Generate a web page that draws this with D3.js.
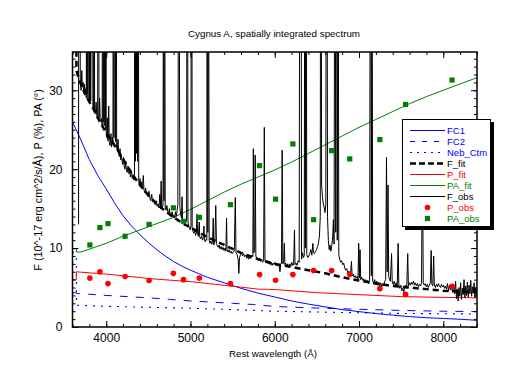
<!DOCTYPE html>
<html>
<head>
<meta charset="utf-8">
<script src="https://cdn.jsdelivr.net/npm/d3@7"></script>
<style>
  body { margin: 0; background: #fff; }
  text { font-family: "Liberation Sans", Arial, sans-serif; }
</style>
</head>
<body>
<div id="chart"></div>
<script>
// ---- data (wavelength in Å, value) ----
const FC1 = [[3600, 26.0], [3700, 23.7], [3800, 21.2], [3900, 19.2], [4000, 17.5], [4100, 15.7],
  [4200, 14.1], [4300, 12.8], [4400, 11.7], [4500, 10.7], [4600, 9.8], [4700, 9.0], [4800, 8.3],
  [4900, 7.7], [5000, 7.2], [5200, 6.3], [5400, 5.6], [5600, 4.9], [5800, 4.3], [6000, 3.8],
  [6200, 3.3], [6400, 2.9], [6600, 2.55], [6800, 2.2], [7000, 1.95], [7200, 1.7], [7400, 1.5],
  [7600, 1.32], [7800, 1.18], [8000, 1.08], [8200, 0.98], [8400, 0.85]];

const FC2 = [[3600, 4.35], [3645, 4.35], [3647, 4.25], [3800, 4.15], [4000, 4.0], [4250, 3.85],
  [4500, 3.7], [4750, 3.5], [5000, 3.3], [5250, 3.15], [5500, 3.0], [5750, 2.85], [6000, 2.6],
  [6500, 2.4], [7000, 2.25], [7500, 2.1], [8000, 2.0], [8400, 1.95]];

const NEB_CTM = [[3600, 9.6], [3645, 9.0], [3647, 2.75], [3800, 2.7], [4000, 2.62], [4500, 2.5],
  [5000, 2.38], [5500, 2.2], [6000, 2.0], [6500, 1.9], [7000, 1.8], [7500, 1.72], [8000, 1.68],
  [8400, 1.65]];

const F_FIT = [[3600, 40.0], [3645, 38.3], [3647, 32.5], [3680, 31.3], [3730, 30.0], [3790, 28.7],
  [3850, 27.6], [3900, 26.5], [4000, 24.6], [4100, 23.0], [4200, 21.3], [4300, 19.5], [4400, 18.0],
  [4500, 16.7], [4600, 15.6], [4700, 14.7], [4800, 13.9], [4900, 13.2], [5000, 12.6], [5100, 12.0],
  [5200, 11.4], [5300, 10.9], [5400, 10.4], [5500, 9.9], [5600, 9.4], [5700, 9.0], [5800, 8.6],
  [5900, 8.3], [6000, 8.0], [6200, 7.6], [6400, 7.2], [6600, 6.8], [6800, 6.3], [7000, 5.9],
  [7200, 5.5], [7400, 5.2], [7600, 5.0], [7800, 4.8], [8000, 4.6], [8200, 4.5], [8400, 4.4]];

const P_FIT = [[3600, 6.0], [3645, 6.0], [3647, 7.0], [3700, 6.95], [4000, 6.7], [4200, 6.5],
  [4500, 6.15], [4800, 5.9], [5000, 5.75], [5300, 5.4], [5600, 5.05], [5800, 4.8], [6000, 4.75],
  [6500, 4.35], [7000, 4.1], [7500, 3.85], [8000, 3.75], [8400, 3.7]];

const PA_FIT = [[3600, 9.95], [3645, 9.95], [3647, 9.5], [3700, 9.5], [4000, 10.6], [4200, 11.5],
  [4500, 12.7], [4800, 13.9], [5000, 14.9], [5200, 16.0], [5400, 17.1], [5600, 18.1], [5800, 19.0],
  [6000, 19.9], [6200, 20.9], [6400, 22.0], [6600, 23.1], [6800, 24.2], [7000, 25.3], [7200, 26.3],
  [7400, 27.3], [7600, 28.3], [7800, 29.2], [8000, 30.0], [8200, 30.8], [8400, 31.6]];

const F_OBS = [[3672, 13.0], [3674, 80], [3688, 80], [3692, 31.2], [3702, 30.0], [3710, 32.5],
  [3716, 30.4], [3726, 31.0], [3734, 29.6], [3742, 30.8], [3750, 29.5], [3758, 30.2], [3764, 29.0],
  [3768, 80], [3772, 29.5], [3778, 70], [3784, 28.8], [3796, 75], [3802, 28.4], [3810, 80],
  [3816, 28.6], [3830, 60], [3838, 80], [3842, 27.9], [3850, 27.6], [3858, 70], [3862, 27.3],
  [3872, 27.0], [3880, 28.5], [3888, 26.8], [3898, 26.7], [3910, 70], [3914, 26.5], [3922, 29.0],
  [3928, 26.2], [3938, 26.0], [3946, 26.4], [3952, 25.6], [3958, 80], [3964, 26.0], [3970, 90],
  [3976, 25.5], [3986, 60], [3992, 25.0], [3996, 70], [4000, 24.6], [4008, 24.0], [4014, 26.5],
  [4020, 23.6], [4030, 28.0], [4036, 23.4], [4046, 23.0], [4056, 24.5], [4064, 22.8], [4074, 24.0],
  [4080, 23.2], [4086, 80], [4092, 24.0], [4102, 90], [4110, 23.5], [4118, 70], [4124, 22.8],
  [4132, 22.3], [4140, 23.8], [4148, 22.0], [4156, 21.6], [4164, 22.6], [4172, 21.2], [4180, 21.8],
  [4190, 20.9], [4198, 20.6], [4206, 21.5], [4214, 20.3], [4222, 20.0], [4232, 21.0], [4240, 19.8],
  [4250, 19.6], [4260, 20.4], [4270, 19.4], [4280, 19.6], [4290, 19.0], [4300, 19.8], [4310, 18.8],
  [4320, 19.3], [4330, 18.6], [4336, 19.5], [4340, 100], [4346, 21], [4352, 60], [4358, 22],
  [4364, 80], [4372, 21], [4380, 60], [4386, 18.3], [4394, 18.0], [4402, 18.8], [4410, 17.8],
  [4420, 18.4], [4430, 17.5], [4440, 19.2], [4448, 17.4], [4458, 17.0], [4468, 17.6], [4478, 16.8],
  [4488, 17.0], [4498, 16.5], [4508, 17.2], [4518, 16.3], [4528, 16.0], [4540, 16.8], [4550, 15.9],
  [4560, 16.2], [4572, 15.7], [4582, 15.5], [4594, 16.0], [4604, 15.3], [4614, 15.6], [4626, 15.1],
  [4636, 16.8], [4644, 15.0], [4652, 18.5], [4658, 15.2], [4666, 15.0], [4674, 15.6], [4680, 60],
  [4686, 16], [4692, 70], [4700, 15.2], [4710, 14.8], [4720, 15.4], [4730, 14.6], [4740, 14.4],
  [4750, 15.0], [4760, 14.2], [4772, 14.0], [4782, 14.6], [4792, 13.9], [4802, 14.2], [4812, 13.8],
  [4822, 14.6], [4832, 14.0], [4842, 14.8], [4850, 15.5], [4856, 40], [4862, 120], [4868, 40],
  [4874, 15.2], [4884, 14.3], [4894, 13.8], [4900, 16.5], [4906, 13.5], [4916, 13.2], [4926, 13.4],
  [4936, 12.9], [4946, 13.3], [4954, 13.6], [4962, 100], [4970, 13.4], [4978, 12.8], [4988, 12.6],
  [4998, 12.3], [5006, 12.8], [5012, 120], [5020, 12.6], [5030, 12.1], [5040, 11.9], [5050, 12.2],
  [5060, 11.6], [5070, 12.0], [5078, 14.3], [5084, 11.8], [5094, 11.5], [5104, 13.3], [5110, 11.4],
  [5120, 11.2], [5132, 11.5], [5142, 11.0], [5152, 11.3], [5160, 12.8], [5166, 11.0], [5176, 10.8],
  [5186, 11.1], [5194, 11.0], [5198, 80], [5206, 12], [5214, 60], [5222, 11.0], [5232, 10.6],
  [5242, 10.9], [5252, 10.5], [5262, 10.7], [5270, 13.8], [5276, 10.4], [5290, 10.8], [5300, 15.4],
  [5308, 10.6], [5318, 10.3], [5330, 10.1], [5340, 10.4], [5350, 9.9], [5362, 10.2], [5374, 9.8],
  [5386, 10.1], [5398, 9.7], [5410, 10.0], [5420, 9.6], [5428, 13.8], [5434, 9.8], [5446, 9.5],
  [5458, 9.8], [5470, 9.4], [5482, 9.6], [5494, 9.3], [5506, 9.5], [5520, 9.6], [5532, 16.4],
  [5540, 9.4], [5552, 9.2], [5566, 8.6], [5574, 6.8], [5582, 8.8], [5594, 9.2], [5606, 9.4],
  [5618, 9.0], [5630, 9.3], [5644, 8.9], [5656, 9.1], [5668, 8.7], [5680, 9.0], [5692, 8.6],
  [5704, 8.9], [5714, 8.7], [5726, 9.1], [5740, 8.9], [5746, 22.6], [5752, 9.4], [5762, 9.6],
  [5768, 21.8], [5776, 9.0], [5786, 8.6], [5796, 8.8], [5808, 8.4], [5820, 8.7], [5832, 8.3],
  [5844, 8.6], [5856, 8.2], [5868, 8.5], [5876, 25.3], [5884, 8.4], [5896, 8.1], [5908, 8.4],
  [5920, 8.0], [5932, 8.3], [5944, 7.9], [5956, 8.2], [5968, 7.8], [5980, 8.1], [5992, 7.9],
  [6004, 8.2], [6016, 7.8], [6028, 8.0], [6040, 7.7], [6052, 7.9], [6062, 7.0], [6070, 7.9],
  [6080, 8.1], [6088, 22.4], [6096, 8.0], [6106, 8.3], [6114, 10.6], [6120, 7.9], [6130, 8.1],
  [6142, 7.7], [6154, 8.0], [6166, 7.6], [6178, 8.0], [6190, 7.7], [6202, 8.2], [6214, 7.8],
  [6224, 8.0], [6234, 12.3], [6240, 7.9], [6252, 8.1], [6264, 7.8], [6278, 8.4], [6290, 8.2],
  [6300, 80], [6310, 90], [6318, 8.6], [6330, 9.4], [6340, 8.8], [6350, 9.0], [6358, 70],
  [6364, 10], [6372, 70], [6380, 9.2], [6392, 8.8], [6404, 9.0], [6416, 9.3], [6428, 9.8],
  [6440, 9.1], [6452, 10.6], [6460, 9.4], [6472, 9.3], [6484, 9.6], [6496, 9.8], [6508, 10.2],
  [6518, 10.6], [6530, 11.5], [6540, 14], [6548, 100], [6556, 18], [6566, 16.5], [6576, 15.6],
  [6586, 15.2], [6596, 14.5], [6606, 15.5], [6616, 100], [6626, 14], [6636, 11], [6646, 9.8],
  [6656, 10.4], [6666, 9.6], [6676, 10.2], [6688, 11.5], [6696, 13.6], [6704, 10.5], [6716, 80],
  [6724, 12], [6732, 90], [6742, 11], [6752, 60], [6760, 9.2], [6770, 8.6], [6782, 8.2],
  [6794, 8.4], [6806, 7.9], [6818, 8.1], [6830, 7.5], [6842, 7.2], [6854, 7.4], [6866, 6.9],
  [6878, 7.1], [6890, 6.6], [6900, 6.8], [6910, 8.3], [6918, 6.5], [6930, 6.7], [6942, 6.3],
  [6954, 6.5], [6966, 6.2], [6978, 6.4], [6988, 6.1], [6996, 10.6], [7004, 6.2], [7012, 9.8],
  [7020, 6.0], [7032, 6.3], [7044, 5.9], [7056, 6.1], [7068, 5.7], [7080, 6.0], [7092, 5.6],
  [7104, 5.9], [7116, 5.5], [7126, 5.9], [7136, 80], [7146, 6.5], [7154, 60], [7162, 5.8],
  [7174, 5.6], [7186, 6.0], [7198, 5.4], [7210, 5.8], [7222, 5.3], [7234, 5.7], [7246, 5.2],
  [7258, 5.6], [7270, 5.1], [7282, 5.5], [7294, 5.3], [7306, 5.8], [7316, 6.0], [7326, 21.5],
  [7334, 7.0], [7344, 18.0], [7352, 6.4], [7362, 6.0], [7372, 5.8], [7386, 9.3], [7394, 5.7],
  [7406, 5.4], [7418, 5.8], [7430, 5.3], [7442, 5.6], [7454, 5.2], [7464, 10.6], [7472, 5.4],
  [7484, 4.9], [7496, 5.3], [7508, 4.6], [7520, 4.9], [7530, 4.4], [7542, 5.0], [7554, 5.3],
  [7566, 4.9], [7578, 9.3], [7586, 5.2], [7598, 5.6], [7610, 5.3], [7622, 5.7], [7634, 5.4],
  [7646, 5.8], [7658, 5.3], [7670, 5.6], [7682, 5.2], [7694, 5.5], [7706, 5.1], [7718, 5.4],
  [7730, 5.2], [7742, 5.6], [7752, 24], [7762, 5.6], [7774, 5.3], [7786, 5.5], [7798, 5.1],
  [7810, 5.4], [7822, 5.0], [7834, 5.3], [7846, 5.6], [7856, 9.7], [7864, 5.4], [7876, 5.2],
  [7886, 9.0], [7894, 5.3], [7906, 5.0], [7918, 5.4], [7930, 5.1], [7942, 5.5], [7954, 5.2],
  [7966, 5.0], [7978, 5.4], [7990, 5.1], [8002, 5.3], [8014, 4.9], [8026, 5.2], [8038, 4.8],
  [8050, 5.5], [8062, 4.6], [8074, 5.3], [8086, 4.7], [8098, 5.1], [8110, 4.4], [8122, 5.4],
  [8134, 4.2], [8146, 5.8], [8156, 3.6], [8166, 4.8], [8176, 3.3], [8186, 5.0], [8196, 3.9],
  [8206, 5.6], [8216, 3.5], [8226, 4.9], [8236, 4.1], [8246, 6.0], [8256, 3.7], [8266, 5.2],
  [8276, 4.0], [8286, 5.7], [8296, 3.8], [8306, 5.3], [8316, 4.2], [8326, 5.9], [8336, 3.9],
  [8346, 5.1], [8356, 4.3], [8366, 5.6], [8376, 3.7], [8386, 5.0], [8396, 4.1]];

const obsWave = [3806, 3925, 4021, 4224, 4509, 4797, 4917, 5105, 5474, 5820, 6010, 6215, 6461,
  6675, 6890, 7247, 7552, 8104];
const P_OBS = [6.2, 7.0, 5.5, 6.4, 5.9, 6.8, 6.0, 6.2, 5.5, 6.64, 5.92, 6.64, 7.15, 7.15, 6.68,
  4.86, 4.14, 5.16];
const PA_OBS = [10.4, 12.6, 13.1, 11.5, 13.0, 15.1, 13.4, 13.9, 15.5, 20.45, 16.2, 23.2, 13.6,
  22.35, 21.3, 23.75, 28.2, 31.3];

const xTicks = [4000, 5000, 6000, 7000, 8000];
const yTicks = [0, 10, 20, 30];
const legendLabels = ["FC1", "FC2", "Neb_Ctm", "F_fit", "P_fit", "PA_fit", "F_obs", "P_obs", "PA_obs"];

// ---- drawing ----
const width = 513, height = 374;
const pLeft = 72.5, pRight = 477, pTop = 52, pBottom = 327;
const blue = "#0000ff", red = "#ff0000", green = "#008000";

const x = d3.scaleLinear().domain([3600, 8400]).range([pLeft, pRight]);
const y = d3.scaleLinear().domain([0, 34.85]).range([pBottom, pTop]);

const svg = d3.select("#chart").append("svg")
    .attr("width", width)
    .attr("height", height);

svg.append("defs").append("clipPath").attr("id", "plot")
  .append("rect")
    .attr("x", pLeft).attr("y", pTop)
    .attr("width", pRight - pLeft).attr("height", pBottom - pTop);

const line = d3.line().x(d => x(d[0])).y(d => y(d[1]));
const plot = svg.append("g").attr("clip-path", "url(#plot)");

function curve(data, color, w, dash) {
  plot.append("path")
      .datum(data)
      .attr("fill", "none")
      .attr("stroke", color)
      .attr("stroke-width", w)
      .attr("stroke-dasharray", dash)
      .attr("d", line);
}

curve(FC1, blue, 1, null);
curve(FC2, blue, 1, "8,8");
curve(NEB_CTM, blue, 1.1, "2,6");
curve(P_FIT, red, 1, null);
curve(PA_FIT, green, 1, null);
curve(F_FIT, "#000", 2.5, "6,4");
curve(F_OBS, "#000", 1, null);

plot.selectAll("circle.pobs")
  .data(obsWave)
  .enter().append("circle")
    .attr("cx", d => x(d))
    .attr("cy", (d, i) => y(P_OBS[i]))
    .attr("r", 2.8)
    .attr("fill", red);

plot.selectAll("rect.paobs")
  .data(obsWave)
  .enter().append("rect")
    .attr("x", d => x(d) - 2.6)
    .attr("y", (d, i) => y(PA_OBS[i]) - 2.6)
    .attr("width", 5.2).attr("height", 5.2)
    .attr("fill", green);

// axes: ticks point inward on all four sides
function styleAxis(g) {
  g.select(".domain").remove();
  g.selectAll("line").attr("stroke", "#000");
  g.selectAll("text").attr("font-size", 12).attr("fill", "#000")
    .attr("font-family", "'Liberation Sans', Arial, sans-serif");
}
const minorX = d3.range(3600, 8401, 200);
const minorY = d3.range(0, 35, 1);

svg.append("g").attr("transform", `translate(0,${pBottom})`)
  .call(d3.axisBottom(x).tickValues(minorX).tickSize(-3).tickFormat(""))
  .call(styleAxis);
svg.append("g").attr("transform", `translate(0,${pBottom})`)
  .call(d3.axisBottom(x).tickValues(xTicks).tickSizeInner(-6).tickSizeOuter(0).tickPadding(6)
    .tickFormat(d3.format("d")))
  .call(styleAxis);
svg.append("g").attr("transform", `translate(0,${pTop})`)
  .call(d3.axisTop(x).tickValues(minorX).tickSize(-3).tickFormat(""))
  .call(styleAxis);
svg.append("g").attr("transform", `translate(0,${pTop})`)
  .call(d3.axisTop(x).tickValues(xTicks).tickSize(-6).tickFormat(""))
  .call(styleAxis);

svg.append("g").attr("transform", `translate(${pLeft},0)`)
  .call(d3.axisLeft(y).tickValues(minorY).tickSize(-3).tickFormat(""))
  .call(styleAxis);
svg.append("g").attr("transform", `translate(${pLeft},0)`)
  .call(d3.axisLeft(y).tickValues(yTicks).tickSizeInner(-6).tickSizeOuter(0).tickPadding(10)
    .tickFormat(d3.format("d")))
  .call(styleAxis);
svg.append("g").attr("transform", `translate(${pRight},0)`)
  .call(d3.axisRight(y).tickValues(minorY).tickSize(-3).tickFormat(""))
  .call(styleAxis);
svg.append("g").attr("transform", `translate(${pRight},0)`)
  .call(d3.axisRight(y).tickValues(yTicks).tickSize(-6).tickFormat(""))
  .call(styleAxis);

svg.append("rect")
    .attr("x", pLeft).attr("y", pTop)
    .attr("width", pRight - pLeft).attr("height", pBottom - pTop)
    .attr("fill", "none")
    .attr("stroke", "#000")
    .attr("stroke-width", 1.5);

// titles
svg.append("text")
    .attr("x", 274).attr("y", 37)
    .attr("text-anchor", "middle")
    .attr("font-size", 9.8)
    .text("Cygnus A, spatially integrated spectrum");

svg.append("text")
    .attr("x", 273).attr("y", 357)
    .attr("text-anchor", "middle")
    .attr("font-size", 9.8)
    .text("Rest wavelength (Å)");

svg.append("text")
    .attr("transform", "translate(42,180)rotate(-90)")
    .attr("text-anchor", "middle")
    .attr("font-size", 10.8)
    .text("F (10^-17 erg cm^2/s/Å), P (%), PA (°)");

// legend
const lg = svg.append("g");
lg.append("rect").attr("x", 405).attr("y", 122).attr("width", 89).attr("height", 108).attr("fill", "#000");
lg.append("rect").attr("x", 402.5).attr("y", 119.5).attr("width", 88).attr("height", 107)
  .attr("fill", "#fff").attr("stroke", "#000");

const legendStyle = {
  FC1: {c: blue, w: 1, dash: null},
  FC2: {c: blue, w: 1, dash: "5,7"},
  Neb_Ctm: {c: blue, w: 1.2, dash: "2,5"},
  F_fit: {c: "#000", w: 2.5, dash: "6,3"},
  P_fit: {c: red, w: 1, dash: null},
  PA_fit: {c: green, w: 1, dash: null},
  F_obs: {c: "#000", w: 1, dash: null},
  P_obs: {c: red, marker: "circle"},
  PA_obs: {c: green, marker: "square"}
};

legendLabels.forEach((name, i) => {
  const s = legendStyle[name];
  const ly = 130.5 + i * 11;
  if (s.marker === "circle") {
    lg.append("circle").attr("cx", 427.5).attr("cy", ly).attr("r", 2.8).attr("fill", s.c);
  } else if (s.marker === "square") {
    lg.append("rect").attr("x", 424.9).attr("y", ly - 2.6).attr("width", 5.2).attr("height", 5.2)
      .attr("fill", s.c);
  } else {
    lg.append("line").attr("x1", 410).attr("x2", 445).attr("y1", ly).attr("y2", ly)
      .attr("stroke", s.c).attr("stroke-width", s.w).attr("stroke-dasharray", s.dash);
  }
  lg.append("text")
      .attr("x", 447).attr("y", ly)
      .attr("dy", "0.35em")
      .attr("font-size", 9.5)
      .attr("fill", s.c)
      .text(name);
});
</script>
</body>
</html>
